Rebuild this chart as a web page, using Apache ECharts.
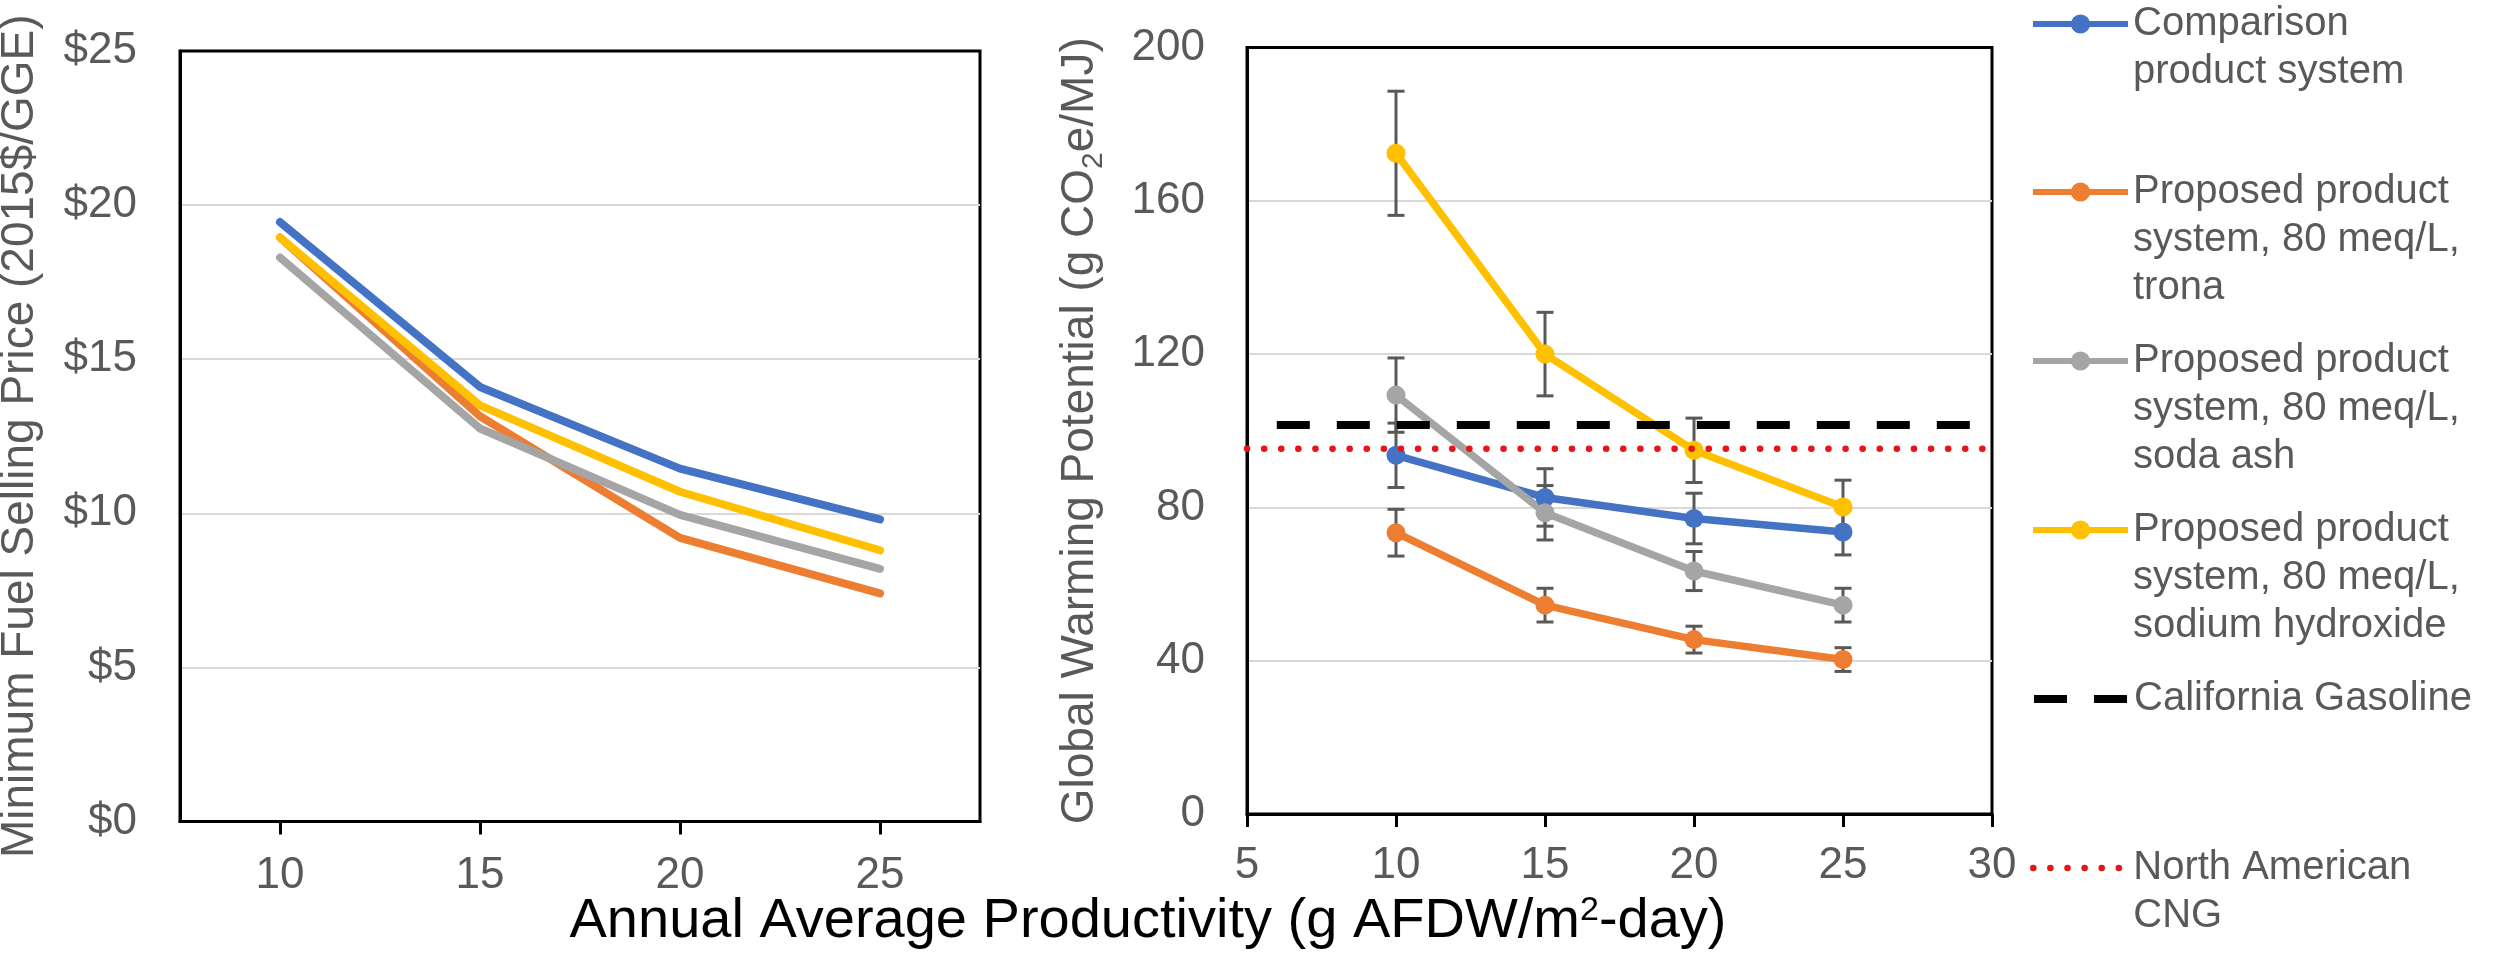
<!DOCTYPE html>
<html><head><meta charset="utf-8">
<script src="https://cdn.jsdelivr.net/npm/echarts@6/dist/echarts.min.js"></script>
<style>html,body{margin:0;padding:0;background:#fff}#c{width:2496px;height:959px}</style>
</head><body><div id="c"></div>
<script>
// ---------- data ----------
const productivity = [10, 15, 20, 25];
const productivityLabels = ['10', '15', '20', '25'];

const seriesNames = [
  'Comparison product system',
  'Proposed product system, 80 meq/L, trona',
  'Proposed product system, 80 meq/L, soda ash',
  'Proposed product system, 80 meq/L, sodium hydroxide',
  'California Gasoline',
  'North American CNG'
];
const legendLines = [
  ['Comparison', 'product system'],
  ['Proposed product', 'system, 80 meq/L,', 'trona'],
  ['Proposed product', 'system, 80 meq/L,', 'soda ash'],
  ['Proposed product', 'system, 80 meq/L,', 'sodium hydroxide'],
  ['California Gasoline'],
  ['North American', 'CNG']
];

// Minimum fuel selling price (2015$/GGE)
const mfspComparison = [19.45, 14.1, 11.45, 9.8];
const mfspTrona      = [18.95, 13.15, 9.2, 7.4];
const mfspSodaAsh    = [18.3, 12.75, 9.95, 8.2];
const mfspNaOH       = [18.95, 13.5, 10.7, 8.8];

// Global warming potential (g CO2e/MJ) and error bar half-widths
const gwpComparison    = [93.6, 82.6, 77.1, 73.6];
const gwpComparisonErr = [8.4, 7.5, 6.6, 6.0];
const gwpTrona         = [73.4, 54.5, 45.5, 40.3];
const gwpTronaErr      = [6.1, 4.4, 3.5, 3.1];
const gwpSodaAsh       = [109.3, 78.6, 63.4, 54.5];
const gwpSodaAshErr    = [9.7, 7.1, 5.1, 4.4];
const gwpNaOH          = [172.4, 120.0, 94.9, 80.1];
const gwpNaOHErr       = [16.2, 10.9, 8.4, 7.0];

const gasolineGWP = 101.5;
const gasolineSpan = [6, 29.4];
const cngGWP = 95.3;
const cngSpan = [5, 30];

const leftTicks = [0, 25, 5];     // min, max, interval ($)
const rightYTicks = [0, 200, 40];
const rightXTicks = [5, 30, 5];

// ---------- styling ----------
const colors = ['#4472C4', '#ED7D31', '#A5A5A5', '#FFC000'];
const FONT = '"Liberation Sans", Arial, sans-serif';
const GRAY = '#595959';
const RED = '#E8141B';

const chart = echarts.init(document.getElementById('c'), null, {renderer: 'canvas'});

const gwpSets = [
  [gwpComparison, gwpComparisonErr],
  [gwpTrona, gwpTronaErr],
  [gwpSodaAsh, gwpSodaAshErr],
  [gwpNaOH, gwpNaOHErr]
];
const mfspSets = [mfspComparison, mfspTrona, mfspSodaAsh, mfspNaOH];

const gasolineLine = {width: 8, color: '#000', type: [33, 27]};
const cngLine = {width: 6.5, color: RED, type: [0.1, 17], cap: 'round'};

const series = [];
// right chart lines (first so the legend takes their look)
gwpSets.forEach((s, i) => {
  series.push({
    type: 'line', name: seriesNames[i], xAxisIndex: 1, yAxisIndex: 1,
    data: productivity.map((x, j) => [x, s[0][j]]),
    symbol: 'circle', symbolSize: 19, z: 3,
    lineStyle: {width: 7.5, color: colors[i]},
    itemStyle: {color: colors[i]}
  });
});
series.push({
  type: 'line', name: seriesNames[4], xAxisIndex: 1, yAxisIndex: 1,
  data: gasolineSpan.map(x => [x, gasolineGWP]),
  symbol: 'none', z: 4, lineStyle: gasolineLine, itemStyle: {color: '#000'}
});
series.push({
  type: 'line', name: seriesNames[5], xAxisIndex: 1, yAxisIndex: 1,
  data: cngSpan.map(x => [x, cngGWP]),
  symbol: 'none', z: 4, lineStyle: cngLine, itemStyle: {color: RED}
});
// error bars
gwpSets.forEach((s, i) => {
  series.push({
    type: 'custom', name: 'err' + i, xAxisIndex: 1, yAxisIndex: 1, z: 2, silent: true,
    data: productivity.map((x, j) => [x, s[0][j] - s[1][j], s[0][j] + s[1][j]]),
    encode: {x: 0, y: [1, 2]},
    renderItem: (params, api) => {
      const x = api.value(0);
      const lo = api.coord([x, api.value(1)]);
      const hi = api.coord([x, api.value(2)]);
      const hw = 8.5;
      const style = {stroke: GRAY, lineWidth: 3};
      return {type: 'group', children: [
        {type: 'line', shape: {x1: lo[0], y1: lo[1], x2: hi[0], y2: hi[1]}, style},
        {type: 'line', shape: {x1: lo[0] - hw, y1: lo[1], x2: lo[0] + hw, y2: lo[1]}, style},
        {type: 'line', shape: {x1: hi[0] - hw, y1: hi[1], x2: hi[0] + hw, y2: hi[1]}, style}
      ]};
    }
  });
});
// left chart lines
mfspSets.forEach((s, i) => {
  series.push({
    type: 'line', name: seriesNames[i], xAxisIndex: 0, yAxisIndex: 0,
    data: s, symbol: 'none', z: 3,
    lineStyle: {width: 8, color: colors[i], cap: 'round'},
    itemStyle: {color: colors[i]}
  });
});

// legends: one per entry, icon aligned with the first text line
const legendCenters = [24, 192, 361, 530, 699, 868];
const LH = 48;
const legendLineStyles = [
  {width: 6, color: colors[0], type: 'solid'},
  {width: 6, color: colors[1], type: 'solid'},
  {width: 6, color: colors[2], type: 'solid'},
  {width: 6, color: colors[3], type: 'solid'},
  gasolineLine,
  cngLine
];
const legends = seriesNames.map((name, i) => {
  const n = legendLines[i].length;
  const text = '\n'.repeat(n - 1) + legendLines[i].join('\n');
  const item = {name, lineStyle: legendLineStyles[i]};
  if (i >= 4) item.itemStyle = {opacity: 0};
  else item.itemStyle = {color: colors[i], opacity: 1};
  return {
    data: [item], orient: 'vertical', left: 2030,
    top: legendCenters[i] - (2 * n - 1) * LH / 2,
    padding: 0, itemWidth: 95, itemHeight: 24, selectedMode: false,
    formatter: () => text,
    textStyle: {fontSize: 40, lineHeight: LH, color: GRAY, fontFamily: FONT}
  };
});

const axisLineStyle = {color: '#000', width: 3};
const gridLine = {show: true, showMinLine: false, showMaxLine: false, lineStyle: {color: '#D9D9D9', width: 2}};

chart.setOption({
  animation: false,
  backgroundColor: '#fff',
  textStyle: {fontFamily: FONT},
  title: {
    text: 'Annual Average Productivity (g AFDW/m{sup|2}-day)',
    left: 1148, top: 922, textAlign: 'center', textVerticalAlign: 'middle', padding: 0,
    textStyle: {fontSize: 56, fontWeight: 'normal', color: '#000', fontFamily: FONT,
      rich: {sup: {fontSize: 34, verticalAlign: 'top', color: '#000', fontFamily: FONT}}}
  },
  legend: legends,
  grid: [
    {left: 180, top: 51, width: 800, height: 770.5, show: true, borderColor: '#000', borderWidth: 3,
     backgroundColor: 'transparent', containLabel: false, outerBoundsMode: 'none'},
    {left: 1247, top: 47.5, width: 745, height: 766.5, show: true, borderColor: '#000', borderWidth: 3,
     backgroundColor: 'transparent', containLabel: false, outerBoundsMode: 'none'}
  ],
  xAxis: [
    {type: 'category', gridIndex: 0, data: productivityLabels, boundaryGap: true,
     axisLine: {lineStyle: axisLineStyle},
     axisTick: {show: true, alignWithLabel: true, length: 13, lineStyle: axisLineStyle},
     axisLabel: {fontSize: 44, color: GRAY, margin: 32, fontFamily: FONT},
     splitLine: {show: false}},
    {type: 'value', gridIndex: 1, min: rightXTicks[0], max: rightXTicks[1], interval: rightXTicks[2],
     axisLine: {lineStyle: axisLineStyle},
     axisTick: {show: true, length: 13, lineStyle: axisLineStyle},
     axisLabel: {fontSize: 44, color: GRAY, margin: 30, fontFamily: FONT},
     splitLine: {show: false}}
  ],
  yAxis: [
    {type: 'value', gridIndex: 0, min: leftTicks[0], max: leftTicks[1], interval: leftTicks[2],
     name: 'Minimum Fuel Selling Price (2015$/GGE)', nameLocation: 'middle', nameGap: 137,
     nameTextStyle: {fontSize: 46, color: GRAY, fontFamily: FONT},
     axisLine: {show: true, lineStyle: axisLineStyle},
     axisTick: {show: false},
     axisLabel: {fontSize: 44, color: GRAY, margin: 43, fontFamily: FONT, formatter: v => '$' + v},
     splitLine: gridLine},
    {type: 'value', gridIndex: 1, min: rightYTicks[0], max: rightYTicks[1], interval: rightYTicks[2],
     name: 'Global Warming Potential (g CO{sub|2}e/MJ)', nameLocation: 'middle', nameGap: 144,
     nameTextStyle: {fontSize: 46, color: GRAY, fontFamily: FONT,
       rich: {sub: {fontSize: 30, verticalAlign: 'bottom', color: GRAY, fontFamily: FONT, padding: [0, 0, -6, 0]}}},
     axisLine: {show: true, lineStyle: axisLineStyle},
     axisTick: {show: false},
     axisLabel: {fontSize: 44, color: GRAY, margin: 42, fontFamily: FONT},
     splitLine: gridLine}
  ],
  series
});
</script>
</body></html>
